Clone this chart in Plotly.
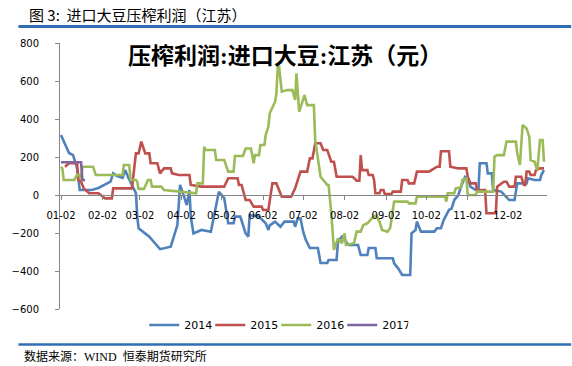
import plotly.graph_objects as go

YEAR = "2001"

tick_labels = ["01-02", "02-02", "03-02", "04-02", "05-02", "06-02",
               "07-02", "08-02", "09-02", "10-02", "11-02", "12-02"]
y_ticks = [800, 600, 400, 200, 0, -200, -400, -600]

dates_2014 = ["01-02","01-06","01-08","01-11","01-14","01-16","01-25","01-30","02-08","02-10",
              "02-13","02-17","02-19","02-21","02-27","02-28","03-01","03-09","03-17","03-25",
              "03-30","04-01","04-06","04-08","04-09","04-11","04-17","04-24","04-30","05-04",
              "05-07","05-11","05-12","05-16","05-20","05-22","05-23","05-30","06-04","06-06",
              "06-07","06-11","06-15","06-18","06-25","06-26","06-28","06-30","07-02","07-04",
              "07-07","07-13","07-15","07-20","07-21","07-27","07-28","07-31","08-02","08-05",
              "08-12","08-14","08-19","08-20","08-25","08-26","09-07","09-08","09-11","09-14",
              "09-20","09-21","09-24","09-25","09-28","10-08","10-10","10-13","10-15","10-19",
              "10-21","10-23","10-26","10-28","10-31","11-02","11-04","11-08","11-10","11-11",
              "11-16","11-17","11-20","11-21","11-27","12-01","12-03","12-07","12-08","12-09",
              "12-16","12-17","12-22","12-26","12-27","12-29"]
values_2014 = [316, 254, 221, 210, 142, 26, 26, 37, 70, 114,
               100, 90, 131, 96, 10, -114, -175, -219, -285, -272,
               -158, 53, -53, 26, -114, -202, -184, -193, 17, -16,
               -149, -149, -114, -114, -202, -219, -105, -114, -149, -184,
               -160, -140, -167, -140, -140, -167, -123, -123, -193, -237,
               -279, -279, -358, -358, -342, -342, -246, -219, -237, -263,
               -263, -316, -316, -279, -279, -333, -333, -360, -386, -421,
               -421, -202, -184, -140, -193, -193, -175, -175, -132, -79,
               -70, -26, 0, 44, 96, 88, 44, 26, 26, 167,
               167, 114, 114, 26, 18, -9, -26, -26, 26, 61,
               61, 88, 79, 79, 105, 131]

dates_2015 = ["01-05","01-08","01-14","01-15","01-17","01-19","01-23","01-30","02-04","02-09",
              "02-10","02-24","02-27","03-01","03-03","03-06","03-09","03-10","03-15","03-17",
              "03-20","03-25","03-26","03-31","04-08","04-09","04-17","05-04","05-07","05-14",
              "05-15","05-17","05-20","05-23","05-26","06-01","06-02","06-06","06-09","06-12",
              "06-16","06-23","06-26","06-30","07-05","07-07","07-09","07-11","07-15","07-17",
              "07-20","07-22","07-23","07-25","07-27","08-08","08-11","08-13","08-14","08-15",
              "08-19","08-20","08-23","08-24","08-25","08-28","08-29","08-31","09-01","09-06",
              "09-07","09-13","09-14","09-18","09-19","09-23","09-25","10-04","10-10","10-12",
              "10-13","10-19","10-20","10-26","11-01","11-02","11-04","11-08","11-09","11-15",
              "11-16","11-23","11-24","11-29","12-01","12-03","12-07","12-08","12-12","12-14",
              "12-15","12-16","12-18","12-19","12-22","12-23","12-26","12-29"]
values_2015 = [149, 167, 167, 79, 70, 35, 9, 9, -18, -18,
               35, 35, 219, 219, 281, 219, 219, 167, 167, 114,
               140, 140, 114, 105, 105, 53, 44, 44, 88, 88,
               53, 53, -26, -26, -61, -61, -79, -79, 61, 61,
               -9, -9, 35, 123, 123, 193, 193, 272, 272, 237,
               237, 202, 175, 175, 96, 96, 75, 75, 210, 131,
               131, 105, 105, 79, 9, 9, 26, 26, 5, 5,
               18, 18, 79, 79, 61, 61, 123, 123, 149, 149,
               230, 230, 149, 140, 140, 96, 61, 61, 26, 26,
               -96, -96, 44, 70, 70, 44, 44, 96, 96, 53,
               53, 123, 123, 105, 105, 131, 140, 140]

dates_2016 = ["01-02","01-03","01-04","01-12","01-14","01-16","01-17","01-18","01-26","01-28",
              "02-17","02-18","02-22","02-23","02-27","02-28","03-01","03-05","03-08","03-10",
              "03-11","03-18","03-20","03-31","04-09","04-13","04-14","04-18","04-19","04-20",
              "04-27","04-28","05-04","05-07","05-11","05-12","05-18","05-20","05-24","05-26",
              "05-27","05-30","05-31","06-03","06-04","06-06","06-07","06-11","06-12","06-13",
              "06-14","06-16","06-20","06-24","06-26","06-27","06-29","07-03","07-05","07-10",
              "07-11","07-15","07-20","07-21","07-23","07-25","07-28","07-31","08-02","08-03",
              "08-09","08-11","08-14","08-16","08-19","08-21","08-24","08-26","08-28","08-30",
              "09-03","09-05","09-07","09-08","09-18","09-19","09-24","09-25","10-16","10-17",
              "10-18","10-23","10-24","10-28","10-29","11-01","11-02","11-08","11-09","11-21",
              "11-22","11-24","11-29","12-01","12-08","12-09","12-11","12-13","12-16","12-18",
              "12-19","12-22","12-24","12-26","12-28","12-29"]
values_2016 = [149, 140, 79, 79, 105, 105, 79, 149, 149, 105,
               105, 158, 158, 79, 79, 70, 32, 32, 79, 79,
               44, 44, 26, 18, 9, 9, 61, 61, 254, 237,
               237, 184, 184, 123, 123, 205, 205, 245, 245, 167,
               210, 210, 263, 263, 316, 359, 430, 491, 535, 675,
               675, 544, 552, 552, 500, 640, 438, 526, 473, 473,
               289, 96, 53, 53, -96, -289, -228, -254, -202, -263,
               -254, -193, -193, -158, -149, -132, -110, -110, -140, -184,
               -193, -175, -79, -35, -35, -44, -44, -9, -9, -35,
               9, 9, 35, 40, 79, 88, 0, 0, 18, 18,
               202, 210, 210, 281, 281, 219, 158, 368, 350, 307,
               184, 175, 131, 289, 289, 175]

dates_2017 = ["01-02", "01-17", "01-18", "01-20"]
values_2017 = [172, 172, 80, 78]

series = [
    ("2014", dates_2014, values_2014, "#4F81BD"),
    ("2015", dates_2015, values_2015, "#C0504D"),
    ("2016", dates_2016, values_2016, "#9BBB59"),
    ("2017", dates_2017, values_2017, "#8064A2"),
]

fig = go.Figure()
for name, ds, vs, color in series:
    fig.add_trace(go.Scatter(
        x=[f"{YEAR}-{d}" for d in ds], y=vs, mode="lines", name=name,
        line=dict(color=color, width=2.6),
    ))

y_min, y_max = -600, 800
axis_color = "#868686"
tick_font = dict(family="DejaVu Sans", size=10, color="#000000")

fig.update_layout(
    width=572, height=366,
    margin=dict(l=43, r=25, t=43, b=57),
    paper_bgcolor="white", plot_bgcolor="white",
    showlegend=True,
    legend=dict(orientation="h", x=0.173, xanchor="left", y=-0.06, yanchor="middle",
                font=dict(family="DejaVu Sans", size=11, color="#000000"),
                bgcolor="rgba(0,0,0,0)", itemwidth=30,
                entrywidth=21, entrywidthmode="pixels"),
    xaxis=dict(
        type="date",
        range=[f"{YEAR}-01-01 06:00", f"{YEAR}-12-31 06:00"],
        tickvals=[f"{YEAR}-{t}" for t in tick_labels],
        ticktext=tick_labels,
        anchor="free", position=(0 - y_min) / (y_max - y_min),
        showline=True, linecolor=axis_color, linewidth=1,
        ticks="outside", ticklen=4, tickcolor=axis_color,
        showgrid=False, zeroline=False,
        tickfont=tick_font, ticklabelstandoff=7,
    ),
    yaxis=dict(
        range=[y_min, y_max], tickvals=y_ticks,
        showline=True, linecolor=axis_color, linewidth=1,
        ticks="outside", ticklen=4, tickcolor=axis_color,
        showgrid=False, zeroline=False,
        tickfont=tick_font, ticklabelstandoff=14,
    ),
    font=dict(family="Noto Sans CJK SC"),
)

fig.add_annotation(text="图 3:  进口大豆压榨利润（江苏）", xref="paper", yref="paper",
                   x=-0.0675, y=1.109, xanchor="left", yanchor="middle", showarrow=False,
                   font=dict(family="Noto Sans CJK SC", size=15, color="#000000"))
fig.add_annotation(text="压榨利润:进口大豆:江苏（元）", xref="paper", yref="paper",
                   x=0.463, y=0.949, xanchor="center", yanchor="middle", showarrow=False,
                   font=dict(family="Liberation Serif, Noto Sans CJK SC", size=23,
                             color="#000000", weight=600))
fig.add_annotation(text="数据来源：WIND  恒泰期货研究所", xref="paper", yref="paper",
                   x=-0.079, y=-0.1767, xanchor="left", yanchor="middle", showarrow=False,
                   font=dict(family="Liberation Serif, Noto Sans CJK SC", size=12, color="#000000"))

rule_color = "#2F6EB5"
fig.add_shape(type="line", xref="paper", yref="paper", x0=-0.0853, x1=1.0496,
              y0=1.062, y1=1.062, line=dict(color=rule_color, width=3))
fig.add_shape(type="line", xref="paper", yref="paper", x0=-0.0853, x1=1.0496,
              y0=-0.1335, y1=-0.1335, line=dict(color=rule_color, width=2.5))

fig.write_html("out.html", config={"displayModeBar": False},
               post_script="document.body.style.margin='0';")
